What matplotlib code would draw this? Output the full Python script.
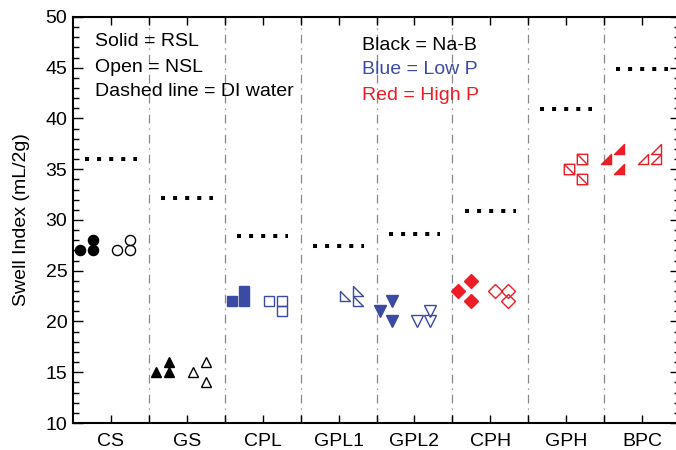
import numpy as np
import matplotlib
matplotlib.use("Agg")
import matplotlib.pyplot as plt
from matplotlib.path import Path
from matplotlib.ticker import MultipleLocator, FixedLocator

plt.rcParams['font.family'] = ['Liberation Sans', 'DejaVu Sans']

# ---- data ----
categories = ['CS', 'GS', 'CPL', 'GPL1', 'GPL2', 'CPH', 'GPH', 'BPC']
di_water = [36.0, 32.2, 28.4, 27.4, 28.6, 30.9, 40.9, 44.9]
# three replicates each, solid = RSL, open = NSL (None = not measured)
rsl = [[27, 27, 28], [15, 15, 16], [22, 22, 23], None,
       [21, 22, 20], [23, 24, 22], None, [36, 37, 35]]
nsl = [[27, 27, 28], [15, 16, 14], [22, 22, 21], [22.5, 23, 22],
       [20, 21, 20], [23, 23, 22], [35, 36, 34], [36, 37, 36]]

# ---- style ----
black = '#000000'
blue = '#3b4ba3'
red = '#ee1c24'
colors = [black, black, blue, blue, blue, red, red, red]

tri_bl = Path([(-1, 1), (-1, -1), (1, -1), (-1, 1)], closed=True)      # right angle bottom-left
tri_br = Path([(1, 1), (1, -1), (-1, -1), (1, 1)], closed=True)        # right angle bottom-right
sq_diag = Path([(-1, -1), (1, -1), (1, 1), (-1, 1), (-1, -1), (-1, 1), (1, -1)],
               [Path.MOVETO, Path.LINETO, Path.LINETO, Path.LINETO, Path.CLOSEPOLY,
                Path.MOVETO, Path.LINETO])
markers = ['o', '^', 's', tri_bl, 'v', 'D', sq_diag, tri_br]
sizes = [7.3, 7.5, 7, 7, 8, 7.5, 7.5, 7]

# replicate column offsets inside a category
rsl_off = [-0.41, -0.24, -0.24]
nsl_off = [0.08, 0.25, 0.25]
nudge = [0, 0, 0, 0, -0.05, -0.02, -0.04, -0.07]

fs = 14

fig = plt.figure(figsize=(6.76, 4.5), dpi=100)
ax = fig.add_axes([73 / 676, 27 / 450, 607 / 676, 406 / 450])

x = np.arange(len(categories))

# separators
for b in np.arange(0.5, len(categories) - 0.5, 1):
    ax.axvline(b, color='#888888', lw=0.9, ls=(0, (7, 4, 1, 4)), zorder=1)

# DI water lines
for i, v in enumerate(di_water):
    ax.plot([x[i] - 0.34, x[i] + 0.34], [v, v], color='black', lw=2.9,
            ls=(0, (1, 2)), solid_capstyle='butt', dash_capstyle='butt', zorder=2)

for i in range(len(categories)):
    c = colors[i]
    if rsl[i] is not None:
        ax.plot(x[i] + np.array(rsl_off) + nudge[i], rsl[i], ls='none',
                marker=markers[i], ms=sizes[i], mfc=c, mec=c, mew=1.0,
                clip_on=False, zorder=3)
    if nsl[i] is not None:
        ax.plot(x[i] + np.array(nsl_off) + nudge[i], nsl[i], ls='none',
                marker=markers[i], ms=sizes[i], mfc='none', mec=c, mew=1.0,
                clip_on=False, zorder=3)

ax.set_xlim(-0.5, len(categories) - 0.5)
ax.set_ylim(10, 50)
ax.xaxis.set_major_locator(FixedLocator(x))
ax.xaxis.set_minor_locator(FixedLocator(np.arange(0.5, len(categories) - 0.5, 1)))
ax.set_xticklabels(categories)
ax.yaxis.set_major_locator(MultipleLocator(5))
ax.yaxis.set_minor_locator(MultipleLocator(1))

ax.tick_params(axis='both', which='both', direction='in', top=True, right=True,
               labelsize=fs, width=1.0)
ax.tick_params(axis='y', which='major', length=7, pad=4)
ax.tick_params(axis='y', which='minor', length=4)
ax.tick_params(axis='x', which='both', length=6, pad=7)
for s in ax.spines.values():
    s.set_linewidth(1.5)

ax.set_ylabel('Swell Index (mL/2g)', fontsize=fs, labelpad=11)

fig.text(95 / 676, 1 - 42 / 450, 'Solid = RSL', fontsize=fs, va='center')
fig.text(95 / 676, 1 - 67 / 450, 'Open = NSL', fontsize=fs, va='center')
fig.text(95 / 676, 1 - 91 / 450, 'Dashed line = DI water', fontsize=fs, va='center')
fig.text(362 / 676, 1 - 46 / 450, 'Black = Na-B', fontsize=fs, va='center', color=black)
fig.text(362 / 676, 1 - 70 / 450, 'Blue = Low P', fontsize=fs, va='center', color=blue)
fig.text(362 / 676, 1 - 95 / 450, 'Red = High P', fontsize=fs, va='center', color=red)

fig.savefig('out.png', dpi=100)
